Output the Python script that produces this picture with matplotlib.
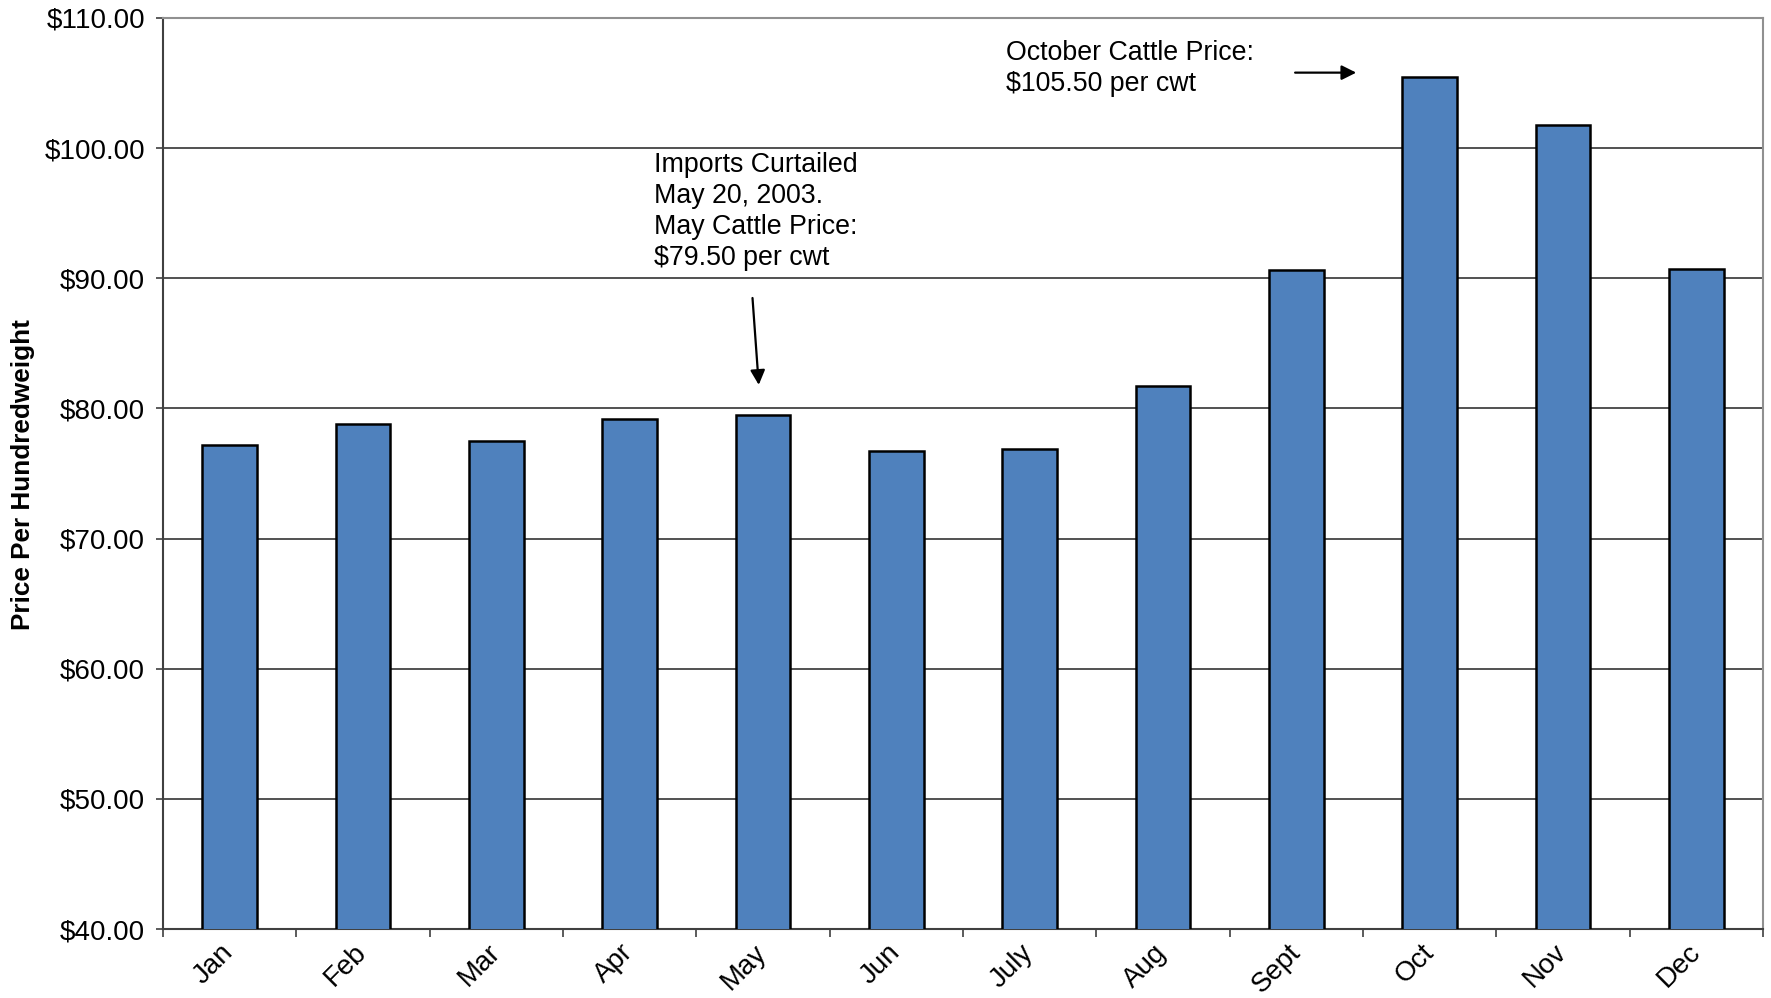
import matplotlib
matplotlib.use("Agg")
import matplotlib.pyplot as plt
import matplotlib.transforms as mtransforms
import numpy as np

plt.rcParams['font.family'] = ['Liberation Sans', 'DejaVu Sans']

months = ['Jan', 'Feb', 'Mar', 'Apr', 'May', 'Jun', 'July', 'Aug', 'Sept', 'Oct', 'Nov', 'Dec']
prices = [77.2, 78.8, 77.5, 79.2, 79.5, 76.7, 76.9, 81.7, 90.6, 105.5, 101.8, 90.7]
yticks = [40, 50, 60, 70, 80, 90, 100, 110]

fig = plt.figure(figsize=(17.71, 9.98), dpi=100)
ax = fig.add_axes([0.092, 0.069, 0.9035, 0.913])

x = np.arange(len(months))
ax.bar(x, prices, width=0.41, color='#4F81BD', edgecolor='black', linewidth=1.8, zorder=3)

ax.set_xlim(-0.5, len(months) - 0.5)
ax.set_ylim(40, 110)
ax.set_yticks(yticks)
ax.set_yticklabels(['${:.2f}'.format(v) for v in yticks], fontsize=20)
ax.yaxis.grid(True, color='#222222', linewidth=1.1, zorder=0)

# month labels at centres, tick marks on category boundaries
ax.set_xticks(x)
ax.set_xticklabels(months, fontsize=20, rotation=45, ha='right', va='center',
                   rotation_mode='anchor')
shift = mtransforms.ScaledTranslation(6 / 100, 0, fig.dpi_scale_trans)
for lbl in ax.get_xticklabels():
    lbl.set_transform(lbl.get_transform() + shift)
ax.set_xticks(np.arange(-0.5, len(months)), minor=True)
ax.tick_params(axis='x', which='major', length=0, pad=14)
ax.tick_params(axis='x', which='minor', length=6, width=1.2, color='#404040')
ax.tick_params(axis='y', length=5, width=1.2, color='#404040', pad=8)

for side in ['left', 'bottom']:
    ax.spines[side].set_color('#404040')
    ax.spines[side].set_linewidth(1.5)
for side in ['top', 'right']:
    ax.spines[side].set_color('#909090')
    ax.spines[side].set_linewidth(1.5)

fig.text(0.0128, 0.524, 'Price Per Hundredweight', rotation=90, fontsize=18.8,
         fontweight='bold', ha='center', va='center')

ax.text(3.18, 99.7, 'Imports Curtailed\nMay 20, 2003.\nMay Cattle Price:\n$79.50 per cwt',
        fontsize=19.3, ha='left', va='top', linespacing=1.25)
ax.annotate('', xy=(3.97, 81.6), xytext=(3.92, 88.7),
            arrowprops=dict(arrowstyle='-|>', color='black', lw=1.6, mutation_scale=22))

ax.text(5.82, 108.3, 'October Cattle Price:\n$105.50 per cwt',
        fontsize=19.3, ha='left', va='top', linespacing=1.25)
ax.annotate('', xy=(8.47, 105.8), xytext=(7.97, 105.8),
            arrowprops=dict(arrowstyle='-|>', color='black', lw=1.6, mutation_scale=22))

fig.savefig('out.png', dpi=100)
